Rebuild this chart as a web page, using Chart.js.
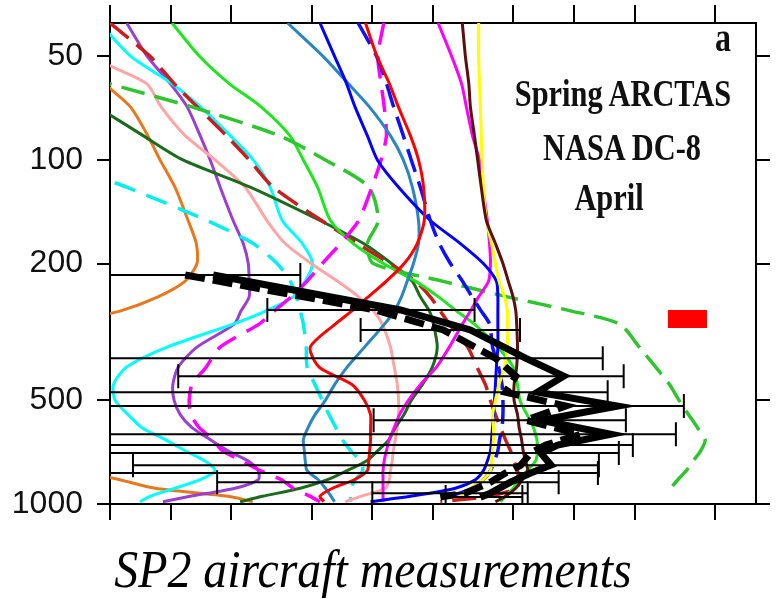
<!DOCTYPE html>
<html lang="en">
<head>
<meta charset="UTF-8">
<title>BC profiles, spring ARCTAS</title>
<script src="https://cdn.jsdelivr.net/npm/chart.js"></script>
<style>
    body { margin: 0; background: #fff; }
    .wrap { position: relative; width: 777px; height: 599px; }
    .note {
        position: absolute;
        font-family: "Liberation Serif", "Times New Roman", serif;
        font-weight: bold;
        color: #111;
        white-space: nowrap;
        text-align: center;
        transform: scaleX(0.8);
    }
    .caption {
        position: absolute;
        left: 0; width: 746px; top: 544px;
        font-family: "Liberation Serif", "Times New Roman", serif;
        font-style: italic;
        font-size: 52px;
        line-height: 52px;
        text-align: center;
        transform: scaleX(0.92);
        color: #000;
    }
</style>
</head>
<body>
<div class="wrap">
    <canvas id="myChart" width="777" height="599"></canvas>
    <div class="note" style="left:683px;width:80px;top:18px;font-size:40px;line-height:40px;">a</div>
    <div class="note" style="left:473px;width:300px;top:74px;font-size:38px;line-height:38px;">Spring ARCTAS</div>
    <div class="note" style="left:472px;width:300px;top:128px;font-size:38px;line-height:38px;">NASA DC-8</div>
    <div class="note" style="left:459px;width:300px;top:178px;font-size:38px;line-height:38px;">April</div>
    <div class="caption">SP2 aircraft measurements</div>
</div>

<script>
    // pressure levels (hPa) shared by the model profiles
    const pressure = [40, 50, 60, 70, 85, 100, 120, 150, 175, 200, 225, 250, 275, 300,
        350, 400, 450, 500, 550, 600, 650, 700, 750, 800, 850, 900, 950, 985];

    // model BC profiles (values below 1 run off the left edge)
    const orange = [0.7, 0.8, 0.95, 1.26, 1.54, 1.77, 2.10, 2.44, 2.68, 2.70, 2.36, 1.73, 1.12, 0.6,
        0.4, 0.4, 0.4, 0.4, 0.4, 0.4, 0.4, 0.4, 0.4, 0.7, 1.12, 1.67, 3.85, 5.1];
    const purple = [1.21, 1.53, 1.99, 2.41, 2.80, 3.14, 3.52, 4.08, 4.58, 4.85, 4.9, 4.9, 4.46, 4.13,
        2.70, 2.18, 2.05, 2.08, 2.23, 2.55, 3.14, 3.85, 4.85, 5.44, 5.44, 4.17, 2.50, 1.83];
    const cyan = [0.89, 1.27, 2.03, 2.80, 3.95, 5.13, 6.23, 7.15, 9.0, 10.1, 9.3, 8.1, 5.9, 4.08,
        1.92, 1.21, 1.04, 1.06, 1.23, 1.44, 1.88, 2.36, 2.96, 3.32, 2.80, 2.10, 1.58, 1.41];
    const cyanDash = [0.4, 0.45, 0.5, 0.55, 0.6, 0.56, 1.21, 3.03, 5.13, 6.74, 7.84, 8.40, 8.79, 9.1,
        9.4, 9.5, 10.4, 11.3, 12.2, 13.2, 14.2, 15.6, 17.5, 17.9, 16.5, 15.6, 15.6, 15.6];
    const pink = [0.75, 0.84, 1.52, 1.79, 2.36, 3.32, 4.68, 6.0, 7.4, 9.95, 13.4, 17.1, 20.3, 22.4,
        24.6, 25.7, 26.6, 27.0, 27.0, 26.6, 26.0, 25.4, 25.1, 24.6, 24.3, 23.2, 17.5, 14.7];
    const darkGreen = [0.4, 0.5, 0.56, 0.86, 1.46, 2.30, 4.96, 11.0, 18.1, 24.9, 31.5, 34.6, 38.4, 40.2,
        42.0, 39.7, 35.4, 31.2, 28.7, 26.0, 24.2, 21.3, 18.7, 15.0, 12.0, 8.79, 5.70, 4.42];
    const redDash = [1.0, 1.58, 2.08, 2.70, 3.77, 4.90, 6.45, 11.2, 16.9, 24.3, 32.7, 38.8, 43.5, 48.2,
        59.5, 66.1, 72.8, 77.1, 81.6, 86.4, 91.5, 96.9, 101, 105, 106, 104, 75.5, 43.5];
    const green = [2.03, 2.78, 3.9, 5.6, 7.8, 9.1, 10.7, 12.4, 16.1, 22.7, 32.7, 42.6, 52.4, 64.2,
        83.9, 100, 105, 108, 117, 126, 131, 132, 129, 117, 106, 100, 91.5, 86.4];
    const greenDash = [0.2, 0.3, 0.98, 2.52, 6.9, 11.7, 19.2, 21.4, 18.9, 20.2, 44.5, 93.7, 195, 337,
        422, 509, 597, 665, 741, 820, 895, 852, 780, 722, 655, 604, null, null];
    const magentaDash = [22.8, 21.3, 22.1, 22.9, 23.5, 22.1, 19.9, 17.1, 13.9, 11.3, 9.5, 7.9, 6.52, 5.49,
        3.52, 3.0, 2.55, 2.47, 2.52, 2.77, 3.25, 3.6, 4.52, 5.56, 7.1, 8.1, 9.85, 11.0];
    const magenta = [42.4, 49.5, 55.4, 58.5, 62.8, 67.9, 70.6, 74.4, 76.3, 77.1, 75.5, 67.4, 61.3, 56.0,
        48.2, 41.6, 34.6, 30.2, 27.3, 25.7, 24.3, 23.5, 22.9, 22.6, 22.6, 22.6, 22.6, 22.6];
    const steelBlue = [7.6, 11.4, 15.2, 19.3, 24.6, 28.5, 31.6, 33.9, 33.9, 32.0, 29.8, 27.9, 25.7, 23.0,
        18.3, 15.0, 13.0, 11.7, 10.4, 9.6, 9.1, 9.2, 9.3, 9.5, 10.8, 11.7, 12.5, 13.0];
    const blue = [11.0, 13.0, 14.9, 16.4, 18.9, 21.2, 27.0, 38.8, 54.7, 71.1, 82.5, 83.9, 83.9, 83.9,
        83.9, 82.5, 81.6, 80.7, 79.8, 78.9, 78.1, 77.1, 74.4, 71.1, 64.9, 51.6, 30.9, 19.6];
    const blueDash = [17.0, 21.0, 23.5, 25.5, 28.5, 31.2, 34.6, 38.8, 43.0, 48.8, 56.0, 62.5, 69.4, 76.3,
        79.0, 84.6, 88.0, 88.9, 88.9, 88.0, 85.5, 83.9, 80.7, 77.1, 71.1, 62.5, 48.8, null];
    const red = [18.5, 21.1, 24.3, 26.9, 30.9, 33.9, 35.9, 36.2, 33.4, 28.8, 23.5, 19.1, 15.8, 13.1,
        9.85, 10.9, 15.9, 18.3, 19.6, 19.6, 19.6, 19.4, 19.2, 18.9, 16.3, 12.7, 11.0, 11.5];
    const yellow = [67.4, 67.4, 68.0, 68.7, 69.4, 70.1, 71.1, 73.6, 78.1, 81.6, 85.0, 90.5, 93.5, 93.5,
        93.5, 90.5, 85.0, 81.6, 79.0, 79.8, 79.8, 79.0, 78.1, 77.1, 71.1, 61.3, 54.7, null];
    const brown = [55.9, 57.9, 60.2, 61.3, 64.2, 66.6, 69.4, 73.6, 81.6, 88.9, 94.5, 99.8, 103, 104,
        105, 104, 101, 101, 105, 107, 110, 112, 115, 118, 111, 103, 91.5, 81.6];

    // SP2 observations: levels, median, mean and the range bars
    const obsP = [216, 273, 312, 377, 425, 473, 519, 571, 627, 674, 711, 771, 813, 864, 930, 955];
    const obsMedian = [3.25, 27.6, 61.3, 115, 178, 132, 330, 137, 305, 166, 137, 154, 122, 96.9, 77.1, 68.7];
    const obsMean = [2.36, 20.7, 45.0, 81.6, 103, 91.5, 182, 115, 216, 145, 122, 109, 91.5, 77.1, 57.9, 43.5];
    const obsLo = [0.5, 6.03, 17.5, 0.5, 2.18, 0.5, 0.5, 20.3, 0.5, 0.5, 0.5, 1.30, 0.5, 3.40, 20.0, 46.2];
    const obsHi = [8.79, 64.3, 108, 278, 353, 294, 702, 362, 641, 392, 334, 266, 263, 168, 118, 111];

    // red marker box
    const markerX = [585, 914];
    const markerP = [290, 290];

    // axis ticks
    const xTickVals = [1, 2, 4, 10, 20, 40, 100, 200, 400, 1000];
    const yTickVals = [50, 100, 200, 500, 1000];

    function profile(vals, color, dash) {
        return {
            data: vals.map((v, i) => ({ x: v, y: pressure[i] })),
            borderColor: color,
            borderWidth: dash ? 3.5 : 3,
            borderDash: dash || [],
            tension: 0.25,
            showLine: true,
            pointRadius: 0,
            spanGaps: false
        };
    }

    const datasets = [
        {
            data: obsMedian.map((v, i) => ({ x: v, y: obsP[i] })),
            borderColor: '#000', borderWidth: 7, showLine: true, pointRadius: 0, tension: 0
        },
        {
            data: obsMean.map((v, i) => ({ x: v, y: obsP[i] })),
            borderColor: '#000', borderWidth: 7, borderDash: [20, 8], showLine: true, pointRadius: 0, tension: 0
        },
        {
            data: markerX.map((v, i) => ({ x: v, y: markerP[i] })),
            borderColor: '#ff0000', borderWidth: 18, borderCapStyle: 'butt', showLine: true, pointRadius: 0
        },
        profile(brown, '#5c0f0f'),
        profile(yellow, '#ffff00'),
        profile(red, '#ff0000'),
        profile(blueDash, '#1010ff', [24, 10]),
        profile(blue, '#0000ff'),
        profile(steelBlue, '#2a86c2'),
        profile(magenta, '#ff00ff'),
        profile(magentaDash, '#ff00ff', [22, 12]),
        profile(greenDash, '#2fc52f', [24, 10]),
        profile(green, '#1ee61e'),
        profile(redDash, '#c81e1e', [24, 10]),
        profile(darkGreen, '#1c6b1c'),
        profile(pink, '#ffa5a5'),
        profile(cyanDash, '#00f0f0', [22, 12]),
        profile(cyan, '#00ffff'),
        profile(purple, '#9b3fd1'),
        profile(orange, '#e8771e')
    ];

    // horizontal range bars, drawn just before the black profiles
    const errorBars = {
        id: 'errorBars',
        beforeDatasetDraw(chart, args) {
            if (args.index !== 1) return;
            const { ctx, chartArea, scales } = chart;
            ctx.save();
            ctx.beginPath();
            ctx.rect(chartArea.left, chartArea.top, chartArea.width, chartArea.height);
            ctx.clip();
            ctx.strokeStyle = '#000';
            ctx.lineWidth = 2;
            obsP.forEach((p, i) => {
                const py = scales.y.getPixelForValue(p);
                const x0 = scales.x.getPixelForValue(obsLo[i]);
                const x1 = scales.x.getPixelForValue(obsHi[i]);
                ctx.beginPath();
                ctx.moveTo(x0, py); ctx.lineTo(x1, py);
                ctx.moveTo(x0, py - 12); ctx.lineTo(x0, py + 12);
                ctx.moveTo(x1, py - 12); ctx.lineTo(x1, py + 12);
                ctx.stroke();
            });
            ctx.restore();
        }
    };

    const grid = (len) => ({ drawOnChartArea: false, color: '#000', tickColor: '#000', lineWidth: 2, tickWidth: 2, tickLength: len });
    const border = { color: '#000', width: 2 };
    const noPad = s => { s.paddingTop = 0; s.paddingBottom = 0; s.paddingLeft = 0; s.paddingRight = 0; };

    const config = {
        type: 'scatter',
        data: { datasets: datasets },
        options: {
            responsive: false,
            animation: false,
            devicePixelRatio: 1,
            layout: { padding: { left: 0, top: 5, right: 0, bottom: 79 } },
            plugins: { legend: { display: false }, tooltip: { enabled: false } },
            scales: {
                x: {
                    type: 'logarithmic', position: 'bottom', min: 1, max: 1600,
                    afterBuildTicks: s => { s.ticks = xTickVals.map(v => ({ value: v })); },
                    ticks: { display: false },
                    grid: grid(16), border: border,
                    afterFit: s => { s.height = 16; noPad(s); }
                },
                x2: {
                    type: 'logarithmic', position: 'top', min: 1, max: 1600,
                    afterBuildTicks: s => { s.ticks = xTickVals.map(v => ({ value: v })); },
                    ticks: { display: false },
                    grid: grid(18), border: border,
                    afterFit: s => { s.height = 18; noPad(s); }
                },
                y: {
                    type: 'logarithmic', position: 'left', reverse: true, min: 40, max: 1000,
                    afterBuildTicks: s => { s.ticks = yTickVals.map(v => ({ value: v })); },
                    ticks: {
                        autoSkip: false, padding: 14, color: '#111',
                        font: { family: "'Liberation Sans', Arial, sans-serif", size: 32 },
                        callback: v => String(v)
                    },
                    grid: grid(13), border: border,
                    afterFit: s => { s.width = 110; noPad(s); }
                },
                y2: {
                    type: 'logarithmic', position: 'right', reverse: true, min: 40, max: 1000,
                    afterBuildTicks: s => { s.ticks = yTickVals.map(v => ({ value: v })); },
                    ticks: { display: false },
                    grid: grid(14), border: border,
                    afterFit: s => { s.width = 21; noPad(s); }
                }
            }
        },
        plugins: [errorBars]
    };

    var myChart = new Chart(document.getElementById('myChart'), config);
</script>
</body>
</html>
